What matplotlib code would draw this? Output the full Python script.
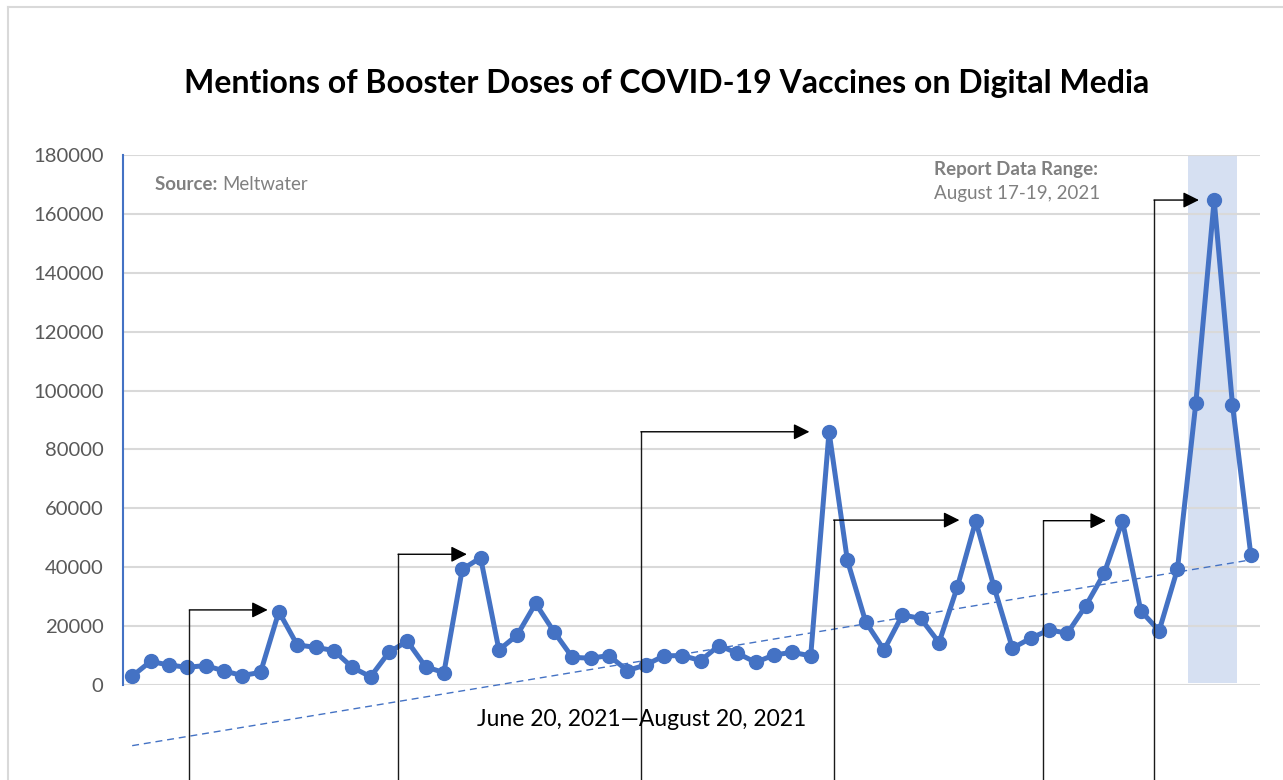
import numpy as np
import matplotlib.pyplot as plt

# daily mentions
mentions = [3000, 8000, 6800, 6000, 6600, 4800, 3200, 4300, 24900, 13600,
            12800, 11700, 6000, 2800, 11100, 14900, 6200, 4200, 39300, 43200,
            11900, 17000, 27700, 18100, 9400, 9100, 10000, 4900, 6800, 9900,
            10000, 8300, 13400, 10800, 7700, 10200, 11100, 9900, 86000, 42300,
            21400, 11900, 23800, 22600, 14400, 33400, 55700, 33200, 12500, 15900,
            18700, 17600, 26900, 37900, 55700, 25200, 18400, 39400, 95700, 164700,
            95100, 44200]
yticks = [0, 20000, 40000, 60000, 80000, 100000, 120000, 140000, 160000, 180000]

# dashed trend line end values (first and last point)
trend_ends = [-20600, 42500]

# report window highlight (category positions)
highlight = [57.6, 60.25]

# callout arrows: vertical start position, level, arrow tip position
arrow_start = [3.12, 14.5, 27.74, 38.25, 49.69, 55.72]
arrow_level = [25500, 44400, 86000, 56000, 55800, 164700]
arrow_tip = [7.39, 18.25, 36.93, 45.11, 53.1, 58.17]

blue = '#4472C4'
font = 'Lato'
plt.rcParams['font.family'] = [font, 'DejaVu Sans']

fig = plt.figure(figsize=(12.83, 7.80), dpi=100)
ax = fig.add_axes([123/1283, 1-685/780, (1260-123)/1283, 530/780])

x = np.arange(len(mentions))
ax.axvspan(highlight[0], highlight[1], ymin=0.004, ymax=1, color='#D6E0F2', zorder=0, lw=0)
ax.plot(x, mentions, color=blue, lw=3.6, marker='o', ms=10, zorder=3)
ax.plot([x[0], x[-1]], trend_ends, color=blue, lw=1.0, ls=(0, (5, 3.5)), clip_on=False, zorder=2)

ax.set_xlim(-0.5, len(mentions) - 0.5)
ax.set_ylim(0, 180000)
ax.set_yticks(yticks)
ax.set_yticklabels([str(v) for v in yticks], fontsize=14.6, color='#595959')
ax.tick_params(axis='y', length=0, pad=14)
ax.set_xticks([])
ax.grid(axis='y', color='#D9D9D9', lw=1.5)
ax.set_axisbelow(True)
for s in ['top', 'right', 'bottom']:
    ax.spines[s].set_visible(False)
ax.spines['left'].set_color(blue)
ax.spines['left'].set_linewidth(1.5)

# callout arrows coming up from below the chart
ybot = -95 / 530 * 180000
for xs, lvl, tip in zip(arrow_start, arrow_level, arrow_tip):
    ax.plot([xs, xs], [ybot, lvl], color='#1a1a1a', lw=1.0, clip_on=False, zorder=4)
    ax.annotate('', xy=(tip, lvl), xytext=(xs, lvl),
                arrowprops=dict(arrowstyle='-|>', color='black', lw=1.0,
                                mutation_scale=24, shrinkA=0, shrinkB=0),
                annotation_clip=False, zorder=4)

fig.text(667/1283, 1-84/780, 'Mentions of Booster Doses of COVID-19 Vaccines on Digital Media',
         ha='center', va='center', fontsize=23, fontweight='bold', color='black')

t = fig.text(155/1283, 1-184/780, 'Source: ', ha='left', va='center', fontsize=13.4,
             fontweight='bold', color='#808080')
ax.annotate('Meltwater', xy=(1, 0), xycoords=t, va='bottom', fontsize=13.4, color='#808080')

fig.text(934/1283, 1-170/780, 'Report Data Range:', ha='left', va='center', fontsize=13.5,
         fontweight='bold', color='#808080')
fig.text(934/1283, 1-194/780, 'August 17-19, 2021', ha='left', va='center', fontsize=13.5,
         color='#808080')

fig.text(642/1283, 1-720/780, 'June 20, 2021\u2014August 20, 2021', ha='center', va='center',
         fontsize=16.5, color='black')

# light frame around the chart area
fig.add_artist(plt.Line2D([8/1283, 8/1283], [0, 1-7/780], transform=fig.transFigure,
                          color='#D9D9D9', lw=1.5))
fig.add_artist(plt.Line2D([8/1283, 1], [1-7/780, 1-7/780], transform=fig.transFigure,
                          color='#D9D9D9', lw=1.5))

fig.savefig('out.png', dpi=100)
